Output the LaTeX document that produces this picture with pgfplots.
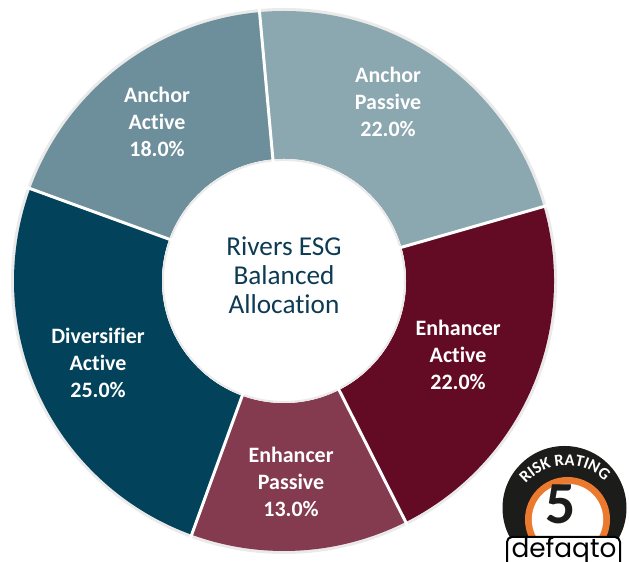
\documentclass[border=0pt]{standalone}
\usepackage{fontspec}
\setmainfont{Carlito}[Ligatures=NoCommon]
\newfontfamily\popfont{Poppins}
\usepackage{pgfplots}
\pgfplotsset{compat=1.18}
\usepackage{pgfplotstable}
\usetikzlibrary{decorations.text}

\definecolor{c0}{HTML}{8BA7B0}
\definecolor{c1}{HTML}{630B24}
\definecolor{c2}{HTML}{843A4F}
\definecolor{c3}{HTML}{02425A}
\definecolor{c4}{HTML}{6D8F9B}
\definecolor{ctitle}{HTML}{0E3B54}
\definecolor{halo}{HTML}{EAEAEA}
\definecolor{logoorange}{HTML}{EC7A2E}
\definecolor{logoblack}{HTML}{1C1C1A}

% slices clockwise from the top; label centre in pixels of the reference
\pgfplotstableread{
first second value lx ly
Anchor Passive 22 388 102
Enhancer Active 22 458 355
Enhancer Passive 13 291 482
Diversifier Active 25 98 363
Anchor Active 18 157 122
}\slices

\tikzset{slicelbl/.style={font=\fontsize{12.5}{15.2}\selectfont\bfseries,
  align=center, text=white, inner sep=0pt}}

\def\pcx{5.68}\def\pcy{5.62}\def\pRo{5.40}\def\pRi{2.44}

% build the drawing commands from the table
\gdef\pcum{95.2}
\gdef\slicecmds{}
\gdef\sepcmds{}
\gdef\lblcmds{}
\pgfplotstablegetrowsof{\slices}
\pgfmathtruncatemacro\pN{\pgfplotsretval-1}
\pgfplotsforeachungrouped \k in {0,...,\pN}{%
  \pgfplotstablegetelem{\k}{value}\of\slices \edef\pval{\pgfplotsretval}%
  \pgfplotstablegetelem{\k}{first}\of\slices \edef\pnameA{\pgfplotsretval}%
  \pgfplotstablegetelem{\k}{second}\of\slices \edef\pnameB{\pgfplotsretval}%
  \pgfplotstablegetelem{\k}{lx}\of\slices \edef\plx{\pgfplotsretval}%
  \pgfplotstablegetelem{\k}{ly}\of\slices \edef\ply{\pgfplotsretval}%
  \pgfmathsetmacro\pA{\pcum}%
  \pgfmathsetmacro\pB{\pcum-3.6*\pval}%
  \pgfmathsetmacro\pxa{\pcx+\pRo*cos(\pA)}%
  \pgfmathsetmacro\pya{\pcy+\pRo*sin(\pA)}%
  \pgfmathsetmacro\pxb{\pcx+\pRi*cos(\pB)}%
  \pgfmathsetmacro\pyb{\pcy+\pRi*sin(\pB)}%
  \pgfmathsetmacro\pxo{\pcx+(\pRo+0.08)*cos(\pA)}%
  \pgfmathsetmacro\pyo{\pcy+(\pRo+0.08)*sin(\pA)}%
  \pgfmathsetmacro\pxi{\pcx+(\pRi-0.05)*cos(\pA)}%
  \pgfmathsetmacro\pyi{\pcy+(\pRi-0.05)*sin(\pA)}%
  \pgfmathsetmacro\pLX{\plx*0.02}%
  \pgfmathsetmacro\pLY{(562-\ply)*0.02}%
  \xdef\slicecmds{\unexpanded\expandafter{\slicecmds}\noexpand\fill[c\k] (axis cs:\pxa,\pya) arc[start angle=\pA, end angle=\pB, radius=\pRo] -- (axis cs:\pxb,\pyb) arc[start angle=\pB, end angle=\pA, radius=\pRi] -- cycle;}%
  \xdef\sepcmds{\unexpanded\expandafter{\sepcmds}\noexpand\draw[white, line width=1.7pt] (axis cs:\pxi,\pyi) -- (axis cs:\pxo,\pyo);}%
  \xdef\lblcmds{\unexpanded\expandafter{\lblcmds}\noexpand\node[slicelbl] at (axis cs:\pLX,\pLY) {\pnameA\noexpand\\\pnameB\noexpand\\\pval.0\noexpand\%};}%
  \xdef\pcum{\pB}%
}

\begin{document}
\begin{tikzpicture}
\begin{axis}[x=1cm, y=1cm, xmin=0, xmax=12.58, ymin=0, ymax=11.24,
  hide axis, clip=false, enlargelimits=false]
\coordinate (bl) at (axis cs:0,0);
\coordinate (tr) at (axis cs:12.58,11.24);
% halo
\fill[halo] (axis cs:5.68,5.62) circle[radius=5.46];
\slicecmds
\fill[white] (axis cs:5.68,5.62) circle[radius=2.44];
\draw[halo, line width=0.04cm] (axis cs:5.68,5.62) circle[radius=2.42];
\sepcmds
\lblcmds
% centre title
\node[font=\fontsize{15.5}{16.6}\selectfont, text=ctitle, align=center, inner sep=0pt]
  at (axis cs:5.68,5.74) {Rivers ESG\\Balanced\\Allocation};
% defaqto risk rating logo
\fill[logoblack] (axis cs:11.29,1.08) circle[radius=1.24];
\fill[logoorange] (axis cs:11.35,0.85) circle[radius=0.85];
\fill[white] (axis cs:11.35,0.85) circle[radius=0.714];
\node[font=\fontsize{34}{34}\selectfont\bfseries, text=logoblack, inner sep=0pt]
  at (axis cs:11.22,1.15) {5};
\path[decorate, decoration={text along path,
   text={|\bfseries\fontsize{9.5}{9.5}\selectfont|RISK RATING},
   text color=white, text align=center}]
  (axis cs:10.2667,1.041) arc[start angle=170, end angle=14, radius=1.08];
\draw[black, fill=white, line width=0.04cm, rounded corners=0.1cm]
  (axis cs:10.14,0.5) rectangle (axis cs:12.40,-0.4);
\node[font=\popfont\fontsize{15}{15}\selectfont, text=black, anchor=base, inner sep=0pt]
  at (axis cs:11.28,0.08) {defaqto};
\end{axis}
\pgfresetboundingbox
\path[use as bounding box] (bl) rectangle (tr);
\end{tikzpicture}
\end{document}
